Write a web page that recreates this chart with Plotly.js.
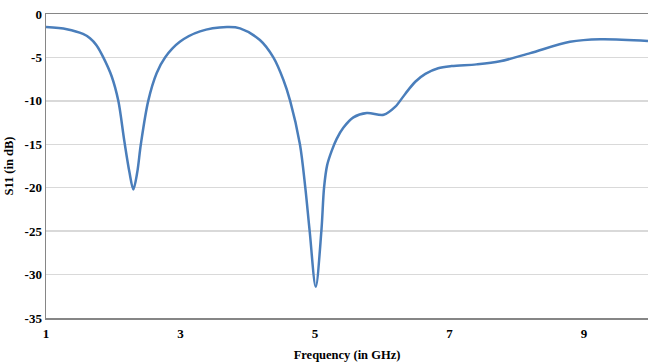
<!DOCTYPE html>
<html>
<head>
<meta charset="utf-8">
<script src="https://cdn.plot.ly/plotly-3.0.1.min.js"></script>
<style>html,body{margin:0;padding:0;background:#fff;}#chart{width:648px;height:363px;}</style>
</head>
<body>
<div id="chart"></div>
<script>
const freqGHz = [1.0, 1.31, 1.55, 1.654, 1.75, 1.852, 1.977, 2.075, 2.164, 2.24, 2.298, 2.357, 2.41, 2.52, 2.646, 2.77, 2.99, 3.29, 3.69, 3.885, 4.18, 4.38, 4.53, 4.63, 4.775, 4.855, 4.92, 5.01, 5.094, 5.134, 5.18, 5.25, 5.32, 5.42, 5.57, 5.77, 6.02, 6.19, 6.34, 6.49, 6.64, 6.83, 7.03, 7.4, 7.75, 8.2, 8.79, 9.24, 9.95];
const s11dB   = [-1.5, -1.75, -2.3, -2.8, -3.6, -5.0, -7.2, -10.0, -14.6, -18.2, -20.2, -18.2, -15.0, -10.0, -6.8, -5.0, -3.2, -2.0, -1.5, -1.65, -3.0, -5.0, -7.6, -10.0, -15.0, -20.0, -25.0, -31.4, -25.0, -20.0, -17.4, -15.7, -14.4, -13.1, -11.9, -11.4, -11.6, -10.7, -9.2, -7.8, -6.9, -6.25, -6.0, -5.8, -5.45, -4.5, -3.2, -2.9, -3.1];
const xTicks = [1, 3, 5, 7, 9];
const yTicks = [0, -5, -10, -15, -20, -25, -30, -35];

const tickFont = {family: '"Liberation Serif", "Times New Roman", serif', size: 13, color: '#000', weight: 'bold'};
const titleFont = {family: '"Liberation Serif", "Times New Roman", serif', size: 12.5, color: '#000', weight: 'bold'};

Plotly.newPlot('chart', [{
  x: freqGHz, y: s11dB, type: 'scatter', mode: 'lines',
  line: {color: '#4a7ebb', width: 2.5, shape: 'spline', smoothing: 0.9}
}], {
  width: 648, height: 363,
  margin: {l: 46, r: 0, t: 14, b: 45},
  paper_bgcolor: '#fff', plot_bgcolor: '#fff',
  showlegend: false,
  xaxis: {
    range: [1, 9.95], tickvals: xTicks, ticktext: xTicks.map(String),
    showgrid: false, zeroline: false, showline: true, mirror: true,
    linecolor: '#868686', linewidth: 1.5, ticks: '', ticklabelstandoff: 3,
    tickfont: tickFont,
    title: {text: 'Frequency (in GHz)', font: titleFont, standoff: 10}
  },
  yaxis: {
    range: [-35, 0], tickvals: yTicks, ticktext: yTicks.map(String),
    showgrid: true, gridcolor: '#d9d9d9', gridwidth: 1.5,
    zeroline: false, showline: true, linecolor: '#868686', linewidth: 1.5, ticks: '',
    tickfont: tickFont,
    title: {text: 'S11 (in dB)', font: titleFont, standoff: 8}
  }
}, {displayModeBar: false, staticPlot: true});
</script>
</body>
</html>
